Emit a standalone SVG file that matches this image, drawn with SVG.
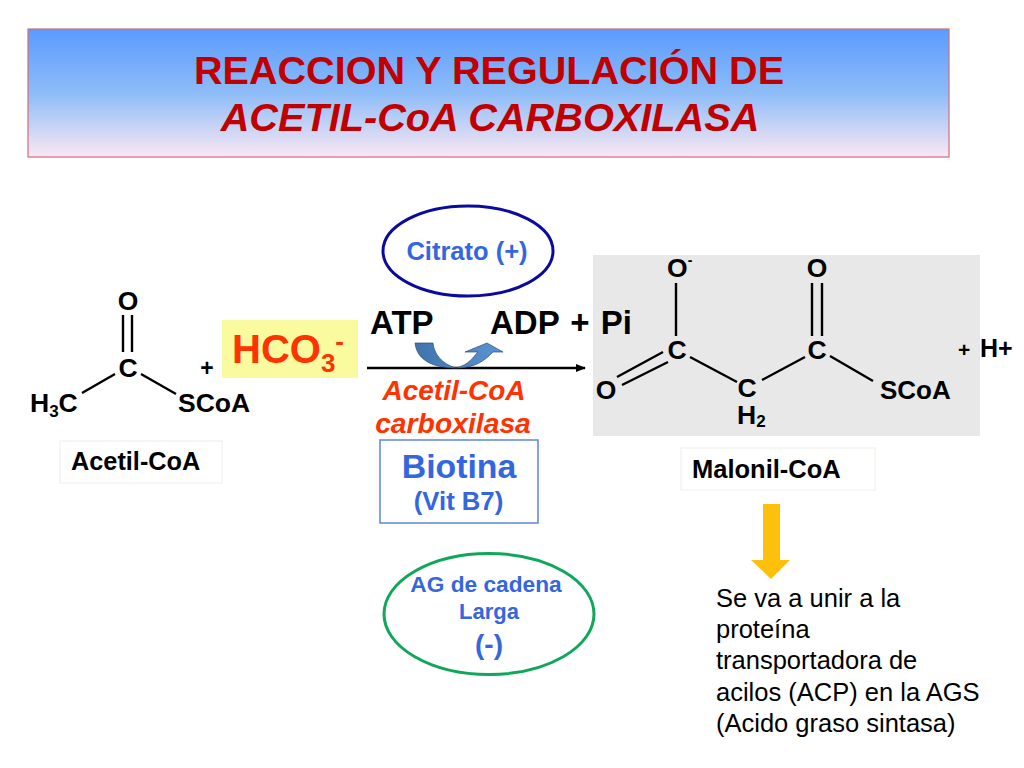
<svg xmlns="http://www.w3.org/2000/svg" width="1024" height="768" viewBox="0 0 1024 768">
<style>
text{font-family:"Liberation Sans",Arial,sans-serif;font-weight:bold;fill:#000}
.mid{text-anchor:middle}
.b{stroke:#000;stroke-width:2.4;fill:none}
.lbl{fill:#fff;stroke:#eeeee6;stroke-width:1}
.chem{font-size:26.5px}
.blue{fill:#3366e0}
.red{fill:#ff3300}
</style>
<defs>
<linearGradient id="g" x1="0" y1="0" x2="0" y2="1"><stop offset="0" stop-color="#5b9bff"/><stop offset=".5" stop-color="#8dbcf8"/><stop offset="1" stop-color="#fbe8f3"/></linearGradient>
<linearGradient id="arr" x1="0" y1="0" x2="1" y2="0"><stop offset="0" stop-color="#3f74ad"/><stop offset="1" stop-color="#5b93d2"/></linearGradient>
<marker id="ah" markerWidth="10" markerHeight="8" refX="9" refY="4" orient="auto" markerUnits="userSpaceOnUse"><path d="M0 0L10 4L0 8Z" fill="#000"/></marker>
</defs>
<rect width="1024" height="768" fill="#fff"/>
<g id="title">
<rect x="28" y="29" width="921" height="128" fill="url(#g)" stroke="#cc6f78" stroke-width="1.2"/>
<text class="mid" x="489" y="84" font-size="39.600" style="fill:#c00000">REACCION Y REGULACIÓN DE</text>
<text class="mid" x="490" y="131" font-size="39.700" font-style="italic" style="fill:#c00000">ACETIL-CoA CARBOXILASA</text>
</g>
<g id="acetil-coa">
<path class="b" d="M123 315V352M132 315V352M82 393L115 374M141 374L176 394"/>
<text class="mid chem" x="128" y="310">O</text>
<text class="mid chem" x="128" y="377">C</text>
<text x="30" y="412" class="chem">H<tspan font-size="17" dy="5">3</tspan><tspan dy="-5">C</tspan></text>
<text x="178" y="412" class="chem">SCoA</text>
<rect class="lbl" x="60" y="441" width="162" height="42"/>
<text x="71" y="470" font-size="25.300">Acetil-CoA</text>
</g>
<text id="plus-1" class="mid" x="207" y="376" font-size="23">+</text>
<g id="hco3">
<rect x="222" y="320" width="136" height="58" fill="#fafa9e"/>
<text x="232" y="363" font-size="40" class="red">HCO<tspan font-size="26" dy="9" class="red">3</tspan><tspan font-size="26" dy="-22" class="red">-</tspan></text>
</g>
<g id="citrato">
<ellipse cx="468" cy="251" rx="85" ry="45" fill="#fff" stroke="#0a0a9e" stroke-width="3"/>
<text class="mid blue" x="467" y="260" font-size="25.500">Citrato (+)</text>
</g>
<g id="connectors">
<path d="M367 368H585" stroke="#000" stroke-width="2.4" fill="none" marker-end="url(#ah)"/>
<path d="M415 343H433C434 354 442 364 456 368C470 364 472 358 478 352L465 352L487 343L503 352L493 352C485 360 476 368 456 368C436 368 417 362 415 343Z" fill="url(#arr)" stroke="#2b4f78" stroke-width=".7"/>
<path d="M763 504H780V560H790L771 579L751 560H763Z" fill="#fcc00d"/>
</g>
<g id="enzyme">
<text class="mid red" x="454" y="400" font-size="28" font-style="italic">Acetil-CoA</text>
<text class="mid red" x="453" y="433" font-size="28.300" font-style="italic">carboxilasa</text>
</g>
<g id="biotina">
<rect x="380" y="440" width="158" height="83" fill="#fff" stroke="#5f86d8" stroke-width="1.5"/>
<text class="mid blue" x="459" y="478" font-size="33.800">Biotina</text>
<text class="mid blue" x="458.500" y="510" font-size="25.700">(Vit B7)</text>
</g>
<g id="malonil-coa">
<rect x="593" y="255" width="387" height="181" fill="#e8e8e8"/>
<path class="b" d="M676 283V336M812 283V336M822 283V336M617 377L663 352M622 385L668 362M690 357L737 382M762 380L805 357M830 356L873 381"/>
<text x="667" y="277" class="chem">O<tspan font-size="14" dy="-12">-</tspan></text>
<text class="mid chem" x="817" y="277">O</text>
<text class="mid chem" x="677" y="359">C</text>
<text class="mid chem" x="817" y="359">C</text>
<text class="mid chem" x="606" y="399">O</text>
<text class="mid chem" x="747" y="397">C</text>
<text x="737" y="424" class="chem">H<tspan font-size="17" dy="3">2</tspan></text>
<text x="880" y="399" font-size="26">SCoA</text>
<rect class="lbl" x="681" y="448" width="194" height="42"/>
<text x="692" y="478" font-size="25.500">Malonil-CoA</text>
</g>
<text id="atp" x="370" y="334" font-size="33">ATP</text>
<text id="adp" x="490" y="334" font-size="33" word-spacing="2">ADP + Pi</text>
<text id="hplus" x="958" y="357" font-size="21">+<tspan x="980" font-size="25">H+</tspan></text>
<g id="ag">
<ellipse cx="489" cy="614" rx="105" ry="60.500" fill="#fff" stroke="#0fa85a" stroke-width="3"/>
<text class="mid blue" x="486" y="592" font-size="22.700">AG de cadena</text>
<text class="mid blue" x="489" y="619" font-size="22">Larga</text>
<text class="mid blue" x="489" y="654" font-size="28">(-)</text>
</g>
<g id="note" font-size="25.500">
<text x="716" y="607" style="font-weight:normal">Se va a unir a la</text>
<text x="716" y="638" style="font-weight:normal">proteína</text>
<text x="716" y="669" style="font-weight:normal">transportadora de</text>
<text x="716" y="701" style="font-weight:normal">acilos (ACP) en la AGS</text>
<text x="716" y="732" style="font-weight:normal">(Acido graso sintasa)</text>
</g>
</svg>
